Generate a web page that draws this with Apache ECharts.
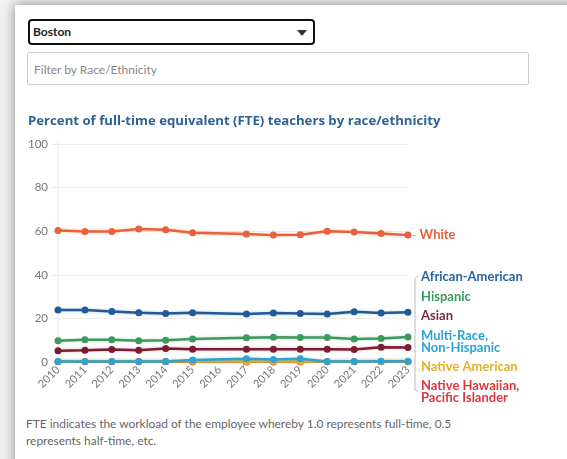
<!DOCTYPE html>
<html>
<head>
<meta charset="utf-8">
<script src="https://cdn.jsdelivr.net/npm/echarts@6/dist/echarts.min.js"></script>
<style>
  html, body { margin: 0; padding: 0; width: 567px; height: 459px; overflow: hidden; background: #f2f2f2; font-family: Lato, "Open Sans", sans-serif; }
  .card { position: absolute; left: 15px; top: 5px; width: 600px; height: 500px; background: #fff; box-shadow: 0 0 12px rgba(0,0,0,0.45); }
  .select { position: absolute; left: 28px; top: 19px; width: 280px; height: 22px; border: 2px solid #111; border-radius: 4px; font-size: 12px; font-weight: bold; color: #222; line-height: 22px; padding-left: 3px; box-sizing: content-box; }
  .select .arrow { position: absolute; right: 6px; top: 9px; width: 0; height: 0; border-left: 5px solid transparent; border-right: 5px solid transparent; border-top: 6px solid #333; }
  .filter { position: absolute; left: 27px; top: 52px; width: 502px; height: 33px; border: 1px solid #ccc; border-radius: 2px; font-size: 12px; color: #888; line-height: 33px; padding-left: 6px; box-sizing: border-box; }
  .note { position: absolute; left: 26px; top: 415px; width: 450px; font-size: 11.95px; line-height: 17px; color: #666; }
  #main { position: absolute; left: 0; top: 0; width: 567px; height: 459px; }
</style>
</head>
<body>
<div class="card"></div>
<div class="select">Boston<span class="arrow"></span></div>
<div class="filter">Filter by Race/Ethnicity</div>
<div class="note">FTE indicates the workload of the employee whereby 1.0 represents full-time, 0.5 represents half-time, etc.</div>
<div id="main"></div>
<script>
// data (2016 has no value)
var years = ['2010','2011','2012','2013','2014','2015','2016','2017','2018','2019','2020','2021','2022','2023']
var white =    [60.3, 59.9, 59.9, 61.0, 60.7, 59.3, null, 58.7, 58.2, 58.4, 60.0, 59.6, 59.0, 58.2]
var african =  [23.8, 23.8, 23.2, 22.6, 22.3, 22.6, null, 22.0, 22.5, 22.2, 22.0, 23.1, 22.5, 22.8]
var hispanic = [9.7, 10.2, 10.2, 9.7, 10.0, 10.5, null, 11.1, 11.4, 11.2, 11.2, 10.5, 10.8, 11.5]
var asian =    [5.2, 5.4, 5.7, 5.4, 6.2, 5.8, null, 5.8, 5.8, 5.8, 5.8, 5.7, 6.8, 6.6]
var multi =    [0.2, 0.2, 0.2, 0.2, 0.2, 0.9, null, 1.5, 1.2, 1.5, 0.2, 0.2, 0.3, 0.3]
var nativeAm = [0.4, 0.4, 0.4, 0.4, 0.4, 0.2, null, 0.2, 0.2, 0.2, 0.2, 0.2, 0.2, 0.2]
var hawaiian = [0.1, 0.1, 0.1, 0.1, 0.1, 0.0, null, 0.0, 0.0, 0.0, 0.1, 0.1, 0.1, 0.1]
var yTicks = [0, 20, 40, 60, 80, 100]

var groups = [
  { name: 'Native Hawaiian, Pacific Islander', data: hawaiian, color: '#d8393c' },
  { name: 'Native American', data: nativeAm, color: '#e5b024' },
  { name: 'Multi-Race, Non-Hispanic', data: multi, color: '#2ba3d6' },
  { name: 'Asian', data: asian, color: '#7b1c33' },
  { name: 'Hispanic', data: hispanic, color: '#3c9a5c' },
  { name: 'African-American', data: african, color: '#1f5b97' },
  { name: 'White', data: white, color: '#e8603c' }
]

var chartDom = document.getElementById('main')
var myChart = echarts.init(chartDom)

var series = groups.map(function (g) {
  return {
    name: g.name,
    type: 'line',
    data: g.data,
    connectNulls: true,
    symbol: 'circle',
    symbolSize: 7,
    animation: false,
    lineStyle: { width: 2.5, color: g.color, shadowColor: g.color + '55', shadowBlur: 3 },
    itemStyle: { color: g.color },
    endLabel: g.name === 'White' ? {
      show: true, distance: 4,
      formatter: '{d|-} White',
      rich: { d: { color: '#aaa', fontSize: 12, fontWeight: 'normal' } },
      color: g.color, fontSize: 13, fontWeight: 'bold', fontFamily: 'Lato'
    } : { show: false }
  }
})

// labels for the bunched lines near zero
var sideLabels = [
  ['African-American', '#2a64a0', 277],
  ['Hispanic', '#3c9a5c', 297],
  ['Asian', '#7b2a40', 316],
  ['Multi-Race,\nNon-Hispanic', '#2ba3d6', 342],
  ['Native American', '#e5b024', 367],
  ['Native Hawaiian,\nPacific Islander', '#d8393c', 392]
]
var graphics = sideLabels.map(function (s) {
  return {
    type: 'text', left: 421, top: s[2] - (s[0].indexOf('\n') > 0 ? 13 : 7),
    style: { text: s[0], fill: s[1], font: 'bold 13px Lato', lineHeight: 12.5 }
  }
})
graphics.push({
  type: 'polyline',
  shape: { points: [[418, 276], [415, 278], [415, 390], [418, 392]] },
  style: { stroke: '#bbb', lineWidth: 1, fill: null }
})

var option = {
  title: {
    text: 'Percent of full-time equivalent (FTE) teachers by race/ethnicity',
    left: 23, top: 110,
    textStyle: { color: '#2f6294', fontSize: 13.2, fontWeight: 'bold', fontFamily: 'Open Sans' }
  },
  grid: { left: 58, right: 159, top: 144, bottom: 97 },
  xAxis: {
    type: 'category',
    data: years,
    boundaryGap: false,
    axisLine: { show: false },
    axisTick: { show: false },
    axisLabel: { rotate: 45, color: '#777', fontSize: 11, fontFamily: 'Lato', margin: 6, interval: 0 },
    splitLine: { show: false }
  },
  yAxis: {
    type: 'value',
    min: yTicks[0], max: yTicks[yTicks.length - 1], interval: 20,
    axisLine: { show: false },
    axisTick: { show: true, length: 6, lineStyle: { color: '#e6e6e6' } },
    axisLabel: { color: '#777', fontSize: 11.5, fontFamily: 'Lato', margin: 10 },
    splitLine: { lineStyle: { color: '#ececec' } }
  },
  graphic: graphics.concat([{
    type: 'line', shape: { x1: 58, y1: 140, x2: 58, y2: 362 },
    style: { stroke: '#ececec', lineWidth: 1 }, z: -1
  }]),
  series: series
}
option && myChart.setOption(option)
</script>
</body>
</html>
